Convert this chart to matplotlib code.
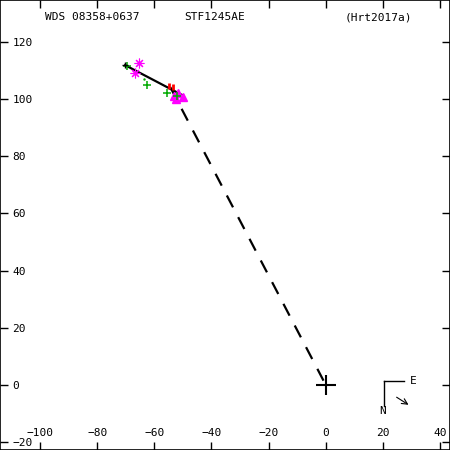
import matplotlib
matplotlib.use("Agg")
import matplotlib.pyplot as plt

# orbit arc and line to primary
orbit_x = [-70.2, -49.8]
orbit_y = [111.9, 101.2]
dash_x = [-54.4, 0.0]
dash_y = [104.2, 0.0]

# measures
star_x = [-65.5, -66.9]
star_y = [112.5, 109.2]
tri_x = [-53.0, -51.6, -49.8, -52.3]
tri_y = [101.1, 102.1, 100.7, 100.0]
green_x = [-69.4, -62.6, -55.5, -51.9]
green_y = [111.6, 104.9, 102.2, 101.1]
red_x = [-54.9, -53.6]
red_y = [104.5, 104.2]

xticks = [-100, -80, -60, -40, -20, 0, 20, 40]
yticks = [-20, 0, 20, 40, 60, 80, 100, 120]

fig = plt.figure(figsize=(4.5, 4.5), dpi=100)
ax = fig.add_axes([0, 0, 1, 1])
ax.set_xlim(-114.0, 43.5)
ax.set_ylim(-22.8, 134.7)

ax.plot(dash_x, dash_y, color='black', lw=1.6, ls=(0, (6, 5)))
ax.plot(orbit_x, orbit_y, color='black', lw=1.6)
ax.plot(star_x, star_y, ls='none', marker=(8, 2, 0), ms=7, mew=0.8, color='magenta')
ax.plot(tri_x, tri_y, ls='none', marker='^', ms=6, color='magenta')
ax.plot(green_x, green_y, ls='none', marker='+', ms=6, mew=1.1, color='#00aa00')
ax.plot(red_x, red_y, ls='none', marker='|', ms=5, mew=2, color='red')
ax.plot([-63.5], [107.0], ls='none', marker='.', ms=1.5, color='#00aa00')
ax.plot([0], [0], ls='none', marker='+', ms=14, mew=1.5, color='black')
ax.plot([-70.2], [111.9], ls='none', marker='+', ms=4, mew=1, color='black')

# compass
ax.plot([20.4, 20.4], [-7.4, 1.4], color='black', lw=1)
ax.plot([20.4, 27.4], [1.4, 1.4], color='black', lw=1)
ax.text(29.5, 1.4, 'E', fontsize=8, family='DejaVu Sans Mono', va='center')
ax.text(20.0, -9.3, 'N', fontsize=8, family='DejaVu Sans Mono', ha='center', va='center')
ax.annotate('', xy=(29.8, -7.5), xytext=(24.0, -3.8),
            arrowprops=dict(arrowstyle='->', lw=0.8, color='black'))

fs = 8
ax.text(0.1, 0.962, 'WDS 08358+0637', transform=ax.transAxes, fontsize=fs, family='DejaVu Sans Mono', va='center')
ax.text(0.41, 0.962, 'STF1245AE', transform=ax.transAxes, fontsize=fs, family='DejaVu Sans Mono', va='center')
ax.text(0.765, 0.962, '(Hrt2017a)', transform=ax.transAxes, fontsize=fs, family='DejaVu Sans Mono', va='center')

ax.set_xticks(xticks)
ax.set_yticks(yticks)
ax.tick_params(direction='in', length=6, width=1, top=True, right=True, labelsize=fs)
ax.tick_params(axis='y', pad=-9)
ax.tick_params(axis='x', pad=-9)
for lab in ax.get_yticklabels():
    lab.set_ha('left')
    lab.set_family('DejaVu Sans Mono')
for lab in ax.get_xticklabels():
    lab.set_va('bottom')
    lab.set_family('DejaVu Sans Mono')
for sp in ax.spines.values():
    sp.set_linewidth(1.2)

fig.savefig('out.png', dpi=100)
